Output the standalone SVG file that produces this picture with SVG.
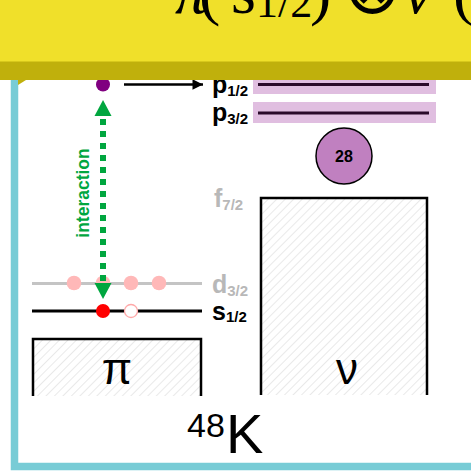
<svg xmlns="http://www.w3.org/2000/svg" width="471" height="471" viewBox="0 0 471 471">
<style>
.lbl{font-family:"Liberation Sans",Arial,sans-serif;font-weight:bold;font-size:25px}
.sub{font-size:15px}
.box{fill:url(#hatch);stroke:none}
.edge{fill:none;stroke:#000;stroke-width:2.5}
.band{fill:#E0BEE0}
.lvl{stroke:#2A0A2A;stroke-width:3}
.big{font-family:"Liberation Sans",Arial,sans-serif;fill:#000}
</style>
<defs>
<pattern id="hatch" width="6" height="6" patternUnits="userSpaceOnUse" patternTransform="rotate(45)">
<line x1="0" y1="0" x2="0" y2="6" stroke="#D4D4D4" stroke-width="1"/>
</pattern>
<marker id="blk" viewBox="0 0 10 10" refX="10" refY="5" markerWidth="5.2" markerHeight="4.2" markerUnits="strokeWidth" orient="auto">
<path d="M0,0 L10,5 L0,10 z" fill="#000"/>
</marker>
</defs>
<rect x="14.5" y="40" width="520" height="426.5" fill="#fff" stroke="#78CCD6" stroke-width="7.5"/>

<g id="nu-box">
<rect class="box" x="261" y="198" width="166" height="197"/>
<path class="edge" d="M261,395 V198 H427 V395"/>
<text class="big" x="347" y="384" font-size="44" text-anchor="middle">ν</text>
</g>
<g id="pi-box">
<rect class="box" x="33" y="339" width="168" height="57"/>
<path class="edge" d="M33,396 V339 H201 V396"/>
<text class="big" x="117" y="384" font-size="44" text-anchor="middle">π</text>
</g>

<g id="p12">
<rect class="band" x="253" y="73" width="183" height="21"/>
<line class="lvl" x1="258" y1="84.5" x2="429" y2="84.5"/>
<text class="lbl" x="212" y="93">p<tspan class="sub" dy="3">1/2</tspan></text>
</g>
<g id="p32">
<rect class="band" x="253" y="102" width="183" height="21"/>
<line class="lvl" x1="258" y1="113" x2="429" y2="113"/>
<text class="lbl" x="212" y="121">p<tspan class="sub" dy="3">3/2</tspan></text>
</g>
<g id="shell28">
<circle cx="344" cy="156" r="28" fill="#C080C0" stroke="#000" stroke-width="1.5"/>
<text x="344" y="162" font-family="Liberation Sans,Arial,sans-serif" font-weight="bold" font-size="16" text-anchor="middle">28</text>
</g>
<g id="f72">
<text class="lbl" x="214" y="207" fill="#B8B8B8">f<tspan class="sub" dy="3">7/2</tspan></text>
</g>
<g id="d32">
<line x1="32" y1="283.5" x2="202" y2="283.5" stroke="#C4C4C4" stroke-width="3"/>
<circle cx="74" cy="283" r="7.3" fill="#FFB8B8"/>
<circle cx="103" cy="283" r="7.3" fill="#FFB8B8"/>
<circle cx="131" cy="283" r="7.3" fill="#FFB8B8"/>
<circle cx="159" cy="283" r="7.3" fill="#FFB8B8"/>
<text class="lbl" x="212" y="293" fill="#B8B8B8">d<tspan class="sub" dy="3">3/2</tspan></text>
</g>
<g id="s12">
<line x1="32" y1="311" x2="202" y2="311" stroke="#000" stroke-width="3"/>
<circle cx="103" cy="311" r="7" fill="#FF0000"/>
<circle cx="131" cy="311" r="6.5" fill="#fff" stroke="#FFA8A8" stroke-width="1.3"/>
<text class="lbl" x="212" y="320">s<tspan class="sub" dy="2">1/2</tspan></text>
</g>
<g id="excited">
<circle cx="103" cy="84.5" r="7" fill="#800080"/>
</g>

<g id="connectors">
<line x1="124" y1="84.5" x2="203" y2="84.5" stroke="#000" stroke-width="2.5" marker-end="url(#blk)"/>
<line x1="103" y1="119" x2="103" y2="289" stroke="#00A63F" stroke-width="6" stroke-dasharray="6 6"/>
<path d="M103,100 L111.5,116 L94.5,116 z" fill="#00A63F"/>
<path d="M103,299 L111.5,283 L94.5,283 z" fill="#00A63F"/>
<text x="89" y="193" transform="rotate(-90 89 193)" font-family="Liberation Sans,Arial,sans-serif" font-weight="bold" font-size="17.5" fill="#00A63F" text-anchor="middle">interaction</text>
</g>

<g id="nucleus">
<text class="big" x="187" y="437" font-size="34">48</text>
<text class="big" x="226" y="453" font-size="56">K</text>
</g>

<g id="banner">
<rect x="0" y="0" width="471" height="62" fill="#F0E02A"/>
<rect x="0" y="61.5" width="471" height="18.5" fill="#C0B00C"/>
<path d="M18,80 H26 L18,85 z" fill="#C0B00C"/>
<text y="13" font-family="Liberation Serif,'Times New Roman',serif" font-size="64" fill="#000"><tspan x="175" font-style="italic">π</tspan><tspan x="199">(</tspan><tspan x="231">s</tspan><tspan x="256" font-size="44" dy="4">1/2</tspan><tspan x="310" dy="-4">)</tspan><tspan x="343" font-size="70">⊗</tspan><tspan x="404" font-style="italic">ν</tspan><tspan x="453">(</tspan></text>
</g>
</svg>
